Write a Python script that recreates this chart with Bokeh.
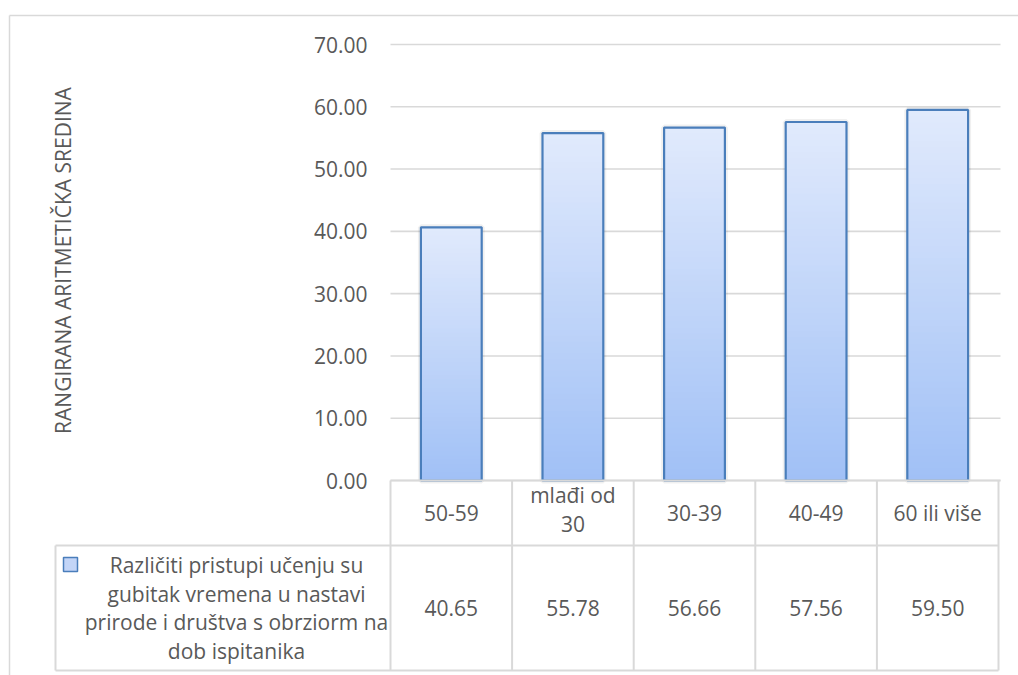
import math
import textwrap
from bokeh.plotting import figure
from bokeh.models import Range1d
from bokeh.core.properties import value
from bokeh.embed import file_html
from bokeh.resources import INLINE

# ---------------- data ----------------
categories = ["50-59", "mlađi od 30", "30-39", "40-49", "60 ili više"]
header_labels = [["50-59"], ["mlađi od", "30"], ["30-39"], ["40-49"], ["60 ili više"]]
values = [40.65, 55.78, 56.66, 57.56, 59.50]
y_ticks = [0, 10, 20, 30, 40, 50, 60, 70]
y_tick_labels = ["0.00", "10.00", "20.00", "30.00", "40.00", "50.00", "60.00", "70.00"]
series_name = ("Različiti pristupi učenju su gubitak vremena u nastavi "
               "prirode i društva s obrziorm na dob ispitanika")
y_title = "RANGIRANA ARITMETIČKA SREDINA"

# ---------------- style / layout ----------------
FONT = value("Open Sans")
FS = "21px"
GRAY = "#595959"
GRID = "#d9d9d9"
EDGE = "#4a7ebb"
TOP_C = (225, 234, 252)
BOT_C = (160, 192, 246)

W, H = 1018, 675
FRAME_L, FRAME_R = 390, 998      # pixel x of the plot area
Y70_PX, Y0_PX = 44, 480          # pixel y of the 70 and 0 gridlines
ppu = (Y0_PX - Y70_PX) / 70.0
cat_px = (FRAME_R - FRAME_L) / len(categories)


def px2u(px):
    return (px - FRAME_L) / cat_px


def py2d(py):
    return (Y0_PX - py) / ppu


def mix(t):
    c = tuple(int(round(BOT_C[i] + (TOP_C[i] - BOT_C[i]) * t)) for i in range(3))
    return "#%02x%02x%02x" % c


p = figure(x_range=Range1d(px2u(0), px2u(W)), y_range=Range1d(py2d(H), py2d(0)),
           width=W, height=H, output_backend="svg", toolbar_location=None,
           x_axis_location=None, y_axis_location=None,
           min_border_left=0, min_border_right=0, min_border_top=0, min_border_bottom=0)
p.outline_line_color = None
p.grid.visible = False
p.background_fill_color = "white"
p.border_fill_color = "white"

n = len(categories)
xc = [i + 0.5 for i in range(n)]

# outer chart border
p.segment(x0=[px2u(9), px2u(9)], y0=[py2d(15), py2d(15)],
          x1=[px2u(W + 5), px2u(9)], y1=[py2d(15), py2d(H + 5)],
          line_color=GRID, line_width=1.5)

# horizontal gridlines
p.segment(x0=[0] * len(y_ticks), y0=y_ticks, x1=[px2u(1000)] * len(y_ticks), y1=y_ticks,
          line_color=GRID, line_width=1.6)

# y tick labels
p.text(x=[px2u(367)] * len(y_ticks), y=y_ticks, text=y_tick_labels,
       text_font=FONT, text_font_size=FS, text_color=GRAY,
       text_align="right", text_baseline="middle")

# y axis title
p.text(x=[px2u(62)], y=[py2d(260)], text=[y_title], angle=math.pi / 2,
       text_font=FONT, text_font_size=FS, text_color=GRAY,
       text_align="center", text_baseline="middle")

# soft shadow
p.vbar(x=xc, top=values, width=0.5, fill_color=None,
       line_color="black", line_alpha=0.06, line_width=6)

# gradient bars (light on top, darker at bottom); slices overlap slightly to hide seams
N = 60
ov = 1.2 / ppu
for k in range(N):
    col = mix((k + 0.5) / N)
    tops = [v * (k + 1) / N + (ov if k < N - 1 else 0) for v in values]
    p.vbar(x=xc, bottom=[v * k / N for v in values], top=tops,
           width=0.5, fill_color=col, line_color=None)
p.vbar(x=xc, top=values, width=0.5, fill_color=None,
       line_color=EDGE, line_width=2.2)

# ---------------- data table ----------------
R0, R1, R2 = 480, 545, 670      # pixel y of table row edges
LEG_L = 55
xl = px2u(LEG_L)
sx0, sy0, sx1, sy1 = [], [], [], []
for i in range(n + 1):
    sx0.append(i); sy0.append(py2d(R0)); sx1.append(i); sy1.append(py2d(R2))
sx0 += [xl, 0, xl, xl]
sy0 += [py2d(R1), py2d(R0), py2d(R1), py2d(R2)]
sx1 += [xl, px2u(1000), n, n]
sy1 += [py2d(R2), py2d(R0), py2d(R1), py2d(R2)]
p.segment(x0=sx0, y0=sy0, x1=sx1, y1=sy1, line_color=GRID, line_width=2)

LINE_H = 28.5
tx, ty, tt = [], [], []


def put_lines(x, yc, lines):
    yc = yc - 3.5 * (len(lines) - 1)
    for j, s in enumerate(lines):
        tx.append(x)
        ty.append(py2d(yc + (j - (len(lines) - 1) / 2) * LINE_H))
        tt.append(s)


for i in range(n):
    put_lines(xc[i], (R0 + R1) / 2, header_labels[i])
    put_lines(xc[i], (R1 + R2) / 2, ["%.2f" % values[i]])
put_lines(px2u(236), (R1 + R2) / 2 + 10.5, textwrap.wrap(series_name, 31))

p.text(x=tx, y=ty, text=tt, text_font=FONT, text_font_size=FS, text_color=GRAY,
       text_align="center", text_baseline="middle")

# legend key
p.rect(x=[px2u(70)], y=[py2d(564)], width=14, height=14,
       width_units="screen", height_units="screen",
       fill_color="#c3d5f7", line_color=EDGE, line_width=1.5)

open("out.html", "w").write(file_html(p, INLINE))
